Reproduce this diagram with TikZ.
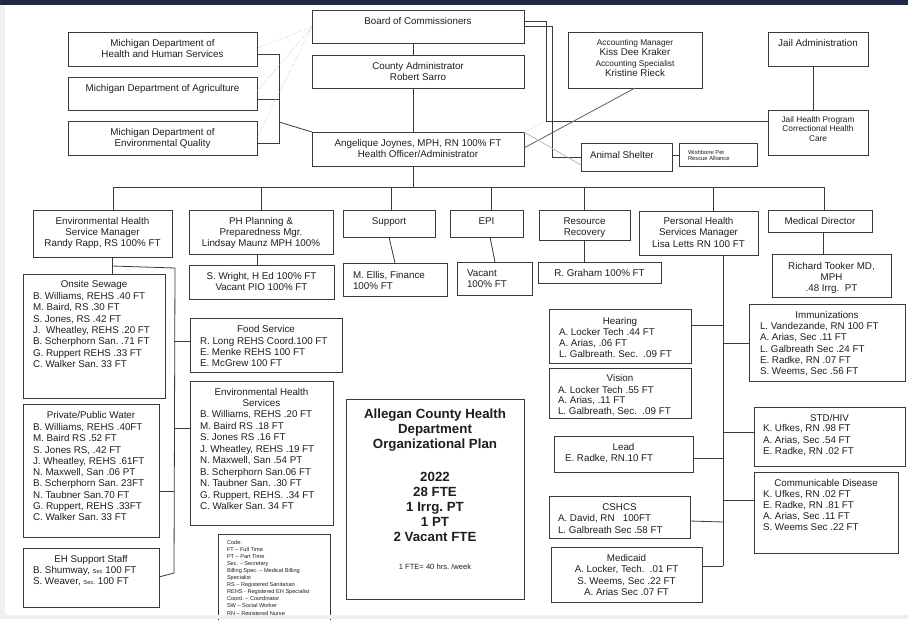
\documentclass[tikz,border=0pt]{standalone}
\usepackage{fontspec}
\setmainfont{Liberation Sans}
\usetikzlibrary{calc}
\definecolor{navy}{HTML}{1D2A47}
\definecolor{boxc}{HTML}{3A3A3A}
\definecolor{txtc}{HTML}{1E1E1E}
\definecolor{strip}{HTML}{F0F0F2}
\frenchspacing
\newcommand\TL[6]{\foreach \t [count=\i] in {#6} {\node[txt,#2] (#1-\i) at (#3,{#4+(\i-1)*#5}) {\t};}}
\newcommand\BX[5]{\node[box, anchor=north west, minimum width={#4pt-#2pt}, minimum height={#5pt-#3pt}] (#1) at (#2,#3) {};}
\begin{document}
\begin{tikzpicture}[x=1pt,y=-1pt,
  box/.style={draw=boxc, line width=0.9pt, inner sep=0pt, outer sep=0pt, fill=white},
  ln/.style={draw=boxc, line width=0.8pt},
  dotl/.style={draw=gray!70, line width=0.6pt, dotted},
  lgl/.style={draw=gray!60, line width=0.7pt},
  txt/.style={inner sep=0pt, outer sep=0pt, text=txtc, font=\fontsize{9.8}{11}\selectfont},
  sm/.style={font=\fontsize{8.3}{9.5}\selectfont},
  tiny/.style={font=\fontsize{5.6}{6.5}\selectfont},
  wtiny/.style={font=\fontsize{5.8}{6.5}\selectfont},
  ttl/.style={font=\fontsize{13.3}{15}\selectfont\bfseries},
  C/.style={anchor=base},
  L/.style={anchor=base west}]
\useasboundingbox (0,0) rectangle (908,619);
\fill[white] (0,0) rectangle (908,619);

% ---------- boxes ----------
\BX{board}{312}{10}{524}{43}
\BX{county}{312}{55}{524}{88}
\BX{ang}{312}{132}{524}{166}
\BX{mdhhs}{68}{32}{257}{66}
\BX{mda}{68}{77}{257}{110}
\BX{mdeq}{68}{121}{257}{155}
\BX{acc}{568}{32}{702}{88}
\BX{jadm}{768}{32}{868}{66}
\BX{jh}{768}{110}{868}{155}
\BX{as}{581}{143}{672}{171}
\BX{wish}{679}{143}{757}{166}

\BX{eh}{33}{210}{172}{257}
\BX{php}{189}{210}{333}{254}
\BX{sup}{343}{210}{435}{237}
\BX{epi}{450}{210}{523}{237}
\BX{rr}{539}{210}{630}{240}
\BX{phs}{639}{211}{758}{255}
\BX{md}{768}{210}{872}{232}

\BX{sw}{189}{265}{334}{299}
\BX{ellis}{343}{263}{447}{296}
\BX{vac}{457}{262}{532}{295}
\BX{gra}{538}{262}{661}{283}
\BX{took}{772}{254}{891}{297}

\BX{onsite}{23}{274}{165}{398}
\BX{water}{23}{404}{159}{537}
\BX{ehss}{23}{548}{159}{607}
\BX{food}{190}{318}{342}{372}
\BX{ehsv}{190}{381}{333}{525}
\BX{code}{218}{534}{330}{624}
\BX{title}{346}{399}{524}{599}

\BX{hear}{549}{309}{691}{363}
\BX{vis}{549}{368}{691}{418}
\BX{lead}{554}{436}{693}{472}
\BX{cshcs}{549}{496}{690}{538}
\BX{med}{551}{547}{702}{602}
\BX{imm}{749}{304}{905}{381}
\BX{std}{754}{407}{905}{466}
\BX{cd}{754}{472}{898}{553}

% ---------- top connectors ----------
\coordinate (brk) at (279,122);
\draw[ln] (mdhhs.east |- 0,54) -- (279,54) -- (279,143) -- (mdeq.east |- 0,143);
\draw[ln] (mda.east |- 0,99) -- (279,99);
\draw[ln] (brk) -- (ang.north west);
\draw[dotl] (board.west |- 0,27) -- (mdhhs.east |- 0,48);
\draw[dotl] (board.west |- 0,27) -- (mda.east |- 0,91);
\draw[dotl] (board.west |- 0,27) -- (mdeq.east |- 0,137);
\draw[ln] (board.south -| 413,0) -- (county.north -| 413,0);
\draw[ln] (county.south -| 413,0) -- (ang.north -| 413,0);
\draw[ln] (board.east |- 0,21) -- (546,21) -- (546,121) -- (jh.west |- 0,121);
\draw[ln] (board.east |- 0,26) -- (552,26) -- (552,157) -- (as.west |- 0,157);
\draw[draw=gray!75!black, line width=0.8pt] (acc.south) -- (ang.east |- 0,148);
\draw[dotl] (ang.north east) -- (546,121);
\draw[lgl] (ang.north east) -- (as.west |- 0,165);
\draw[ln] (as.east |- 0,155) -- (wish.west |- 0,155);
\draw[ln] (jadm.south -| 813,0) -- (jh.north -| 813,0);

% ---------- main bus ----------
\coordinate (busL) at (113,187);
\coordinate (busR) at (824,187);
\draw[ln] (busL) -- (busR);
\draw[ln] (ang.south -| 413,0) -- (413,187);
\draw[ln] (busL) -- (busL |- eh.north);
\draw[ln] (php.north |- busL) -- (php.north);
\draw[ln] (391,187) -- (sup.north -| 391,0);
\draw[ln] (491,187) -- (epi.north -| 491,0);
\draw[ln] (rr.north |- busL) -- (rr.north);
\draw[ln] (713,187) -- (phs.north -| 713,0);
\draw[ln] (busR) -- (busR |- md.north);

% ---------- row 3 connectors ----------
\draw[ln] (php.south -| 257,0) -- (sw.north -| 257,0);
\draw[ln] (sup.south) -- (ellis.north);
\draw[ln] (epi.south -| 490,0) -- (vac.north -| 495,0);
\draw[ln] (rr.south) -- (rr.south |- gra.north);
\draw[ln] (md.south -| 823,0) -- (took.north -| 823,0);

% ---------- left connectors ----------
\draw[ln] (eh.south -| 112,0) -- (onsite.north -| 112,0);
\draw[ln] (112,266) -- (175,268) -- (174,573) -- (ehss.east |- 0,577);
\draw[ln] (174,341) -- (food.west |- 0,341);
\draw[ln] (174,428) -- (ehsv.west |- 0,428);
\draw[ln] (water.east |- 0,491) -- (174,491);

% ---------- right connectors ----------
\coordinate (pvT) at (723,255);
\coordinate (pvB) at (723,566);
\draw[ln] (pvT) -- (pvB);
\draw[ln] (hear.east |- 0,325) -- (723,325);
\draw[ln] (723,343) -- (imm.west |- 0,343);
\draw[ln] (723,432) -- (std.west |- 0,432);
\draw[ln] (lead.east |- 0,458) -- (723,458);
\draw[ln] (723,500) -- (cd.west |- 0,500);
\draw[ln] (cshcs.east |- 0,521) -- (723,522);
\draw[ln] (med.east |- 0,566) -- (pvB);

% ---------- texts: top ----------
\TL{tboard}{C}{418}{24.5}{11}{{Board of Commissioners}}
\TL{tcounty}{C}{418}{69.5}{11}{{County Administrator},{Robert Sarro}}
\TL{tang}{C}{418}{146.5}{11}{{Angelique Joynes, MPH, RN 100\% FT},{Health Officer/Administrator}}
\TL{tmdhhs}{C}{162.5}{46.5}{11}{{Michigan Department of},{Health and Human Services}}
\TL{tmda}{C}{162.5}{91.5}{11}{{Michigan Department of Agriculture}}
\TL{tmdeq}{C}{162.5}{135.5}{11}{{Michigan Department of},{Environmental Quality}}
\node[txt,sm,C] (tacc1) at (635,45) {Accounting Manager};
\node[txt,C] (tacc2) at (635,55.5) {Kiss Dee Kraker};
\node[txt,sm,C] (tacc3) at (635,66) {Accounting Specialist};
\node[txt,C] (tacc4) at (635,76.5) {Kristine Rieck};
\TL{tjadm}{C}{818}{46.5}{11}{{Jail Administration}}
\TL{tjh}{C,sm}{818}{122}{9.5}{{Jail Health Program},{Correctional Health},{Care}}
\TL{tas}{L}{590}{158.5}{11}{{Animal Shelter}}
\TL{twish}{L,wtiny}{688}{154}{6}{{Wishbone Pet},{Rescue Alliance}}

% ---------- texts: row 2 ----------
\TL{teh}{C}{102.5}{224.5}{11}{{Environmental Health},{Service Manager},{Randy Rapp, RS 100\% FT}}
\TL{tphp}{C}{261}{224.5}{11}{{PH Planning \&},{Preparedness Mgr.},{Lindsay Maunz MPH 100\%}}
\TL{tsup}{C}{389}{224.5}{11}{{Support}}
\TL{tepi}{C}{486.5}{224.5}{11}{{EPI}}
\TL{trr}{C}{584.5}{224}{11.5}{{Resource},{Recovery}}
\TL{tphs}{C}{698.5}{224.5}{11.3}{{Personal Health},{Services Manager},{Lisa Letts RN 100 FT}}
\TL{tmd}{C}{820}{224.5}{11}{{Medical Director}}

% ---------- texts: row 3 ----------
\TL{tsw}{C}{261.5}{279.5}{11}{{S. Wright, H Ed 100\% FT},{Vacant PIO 100\% FT}}
\TL{tellis}{L}{353}{278.5}{11}{{M. Ellis, Finance},{100\% FT}}
\TL{tvac}{L}{467}{276.5}{10.5}{{Vacant},{100\% FT}}
\TL{tgra}{C}{599.5}{276.5}{11}{{R. Graham 100\% FT}}
\TL{ttook}{C}{831.5}{269.5}{10.8}{{Richard Tooker MD,},{MPH},{.48 Irrg.~~PT}}

% ---------- texts: left ----------
\TL{tons0}{C}{94}{287.5}{11}{{Onsite Sewage}}
\TL{tons}{L}{33}{299.5}{11.33}{{B. Williams, REHS .40 FT},{M. Baird, RS .30 FT},{S. Jones, RS .42 FT},{J.~~Wheatley, REHS .20 FT},{B. Scherphorn San. .71 FT},{G. Ruppert REHS .33 FT},{C. Walker San. 33 FT}}
\TL{twat0}{C}{91}{418.5}{11}{{Private/Public Water}}
\TL{twat}{L}{33}{430.5}{11.25}{{B. Williams, REHS .40FT},{M. Baird RS .52 FT},{S. Jones RS, .42 FT},{J. Wheatley, REHS .61FT},{N. Maxwell, San .06 PT},{B. Scherphorn San. 23FT},{N. Taubner San.70 FT},{G. Ruppert, REHS .33FT},{C. Walker San. 33 FT}}
\TL{tehss0}{C}{91}{562.5}{11}{{EH Support Staff}}
\node[txt,L] (tehss1) at (33,573.5) {B. Shumway, {\fontsize{5.8}{6}\selectfont Sec} 100 FT};
\node[txt,L] (tehss2) at (33,584.5) {S. Weaver, {\fontsize{5.8}{6}\selectfont Sec.} 100 FT};
\TL{tfood0}{C}{266}{332.5}{11}{{Food Service}}
\TL{tfood}{L}{200}{344.5}{11}{{R. Long REHS Coord.100 FT},{E. Menke REHS 100 FT},{E. McGrew 100 FT}}
\TL{tehsv0}{C}{261.5}{395.5}{11}{{Environmental Health},{Services}}
\TL{tehsv}{L}{200}{417.5}{11.5}{{B. Williams, REHS .20 FT},{M. Baird RS .18 FT},{S. Jones RS .16 FT},{J. Wheatley, REHS .19 FT},{N. Maxwell, San .54 PT},{B. Scherphorn San.06 FT},{N. Taubner San. .30 FT},{G. Ruppert, REHS. .34 FT},{C. Walker San. 34 FT}}
\TL{tcode}{L,tiny}{227}{544}{7.1}{{Code:},{FT – Full Time},{PT – Part Time},{Sec. – Secretary},{Billing Spec. – Medical Billing},{Specialist},{RS – Registered Sanitarian},{REHS - Registered EH Specialist},{Coord. – Coordinator},{SW – Social Worker},{RN – Registered Nurse}}

% ---------- title ----------
\TL{ttitA}{C,ttl}{435}{418}{15}{{Allegan County Health},{Department},{Organizational Plan}}
\TL{ttitB}{C,ttl}{435}{481}{15}{{2022},{28 FTE},{1 Irrg. PT},{1 PT},{2 Vacant FTE}}
\node[txt,C,font=\fontsize{7.6}{9}\selectfont] (tfte) at (435,569.5) {1 FTE= 40 hrs. /week};

% ---------- texts: right ----------
\TL{thear0}{C}{620}{324.5}{11}{{Hearing}}
\TL{thear}{L}{559}{335}{11.3}{{A. Locker Tech .44 FT},{A. Arias, .06 FT},{L. Galbreath. Sec.~~.09 FT}}
\TL{tvis0}{C}{620}{381.5}{11}{{Vision}}
\TL{tvis}{L}{558}{393}{10.8}{{A. Locker Tech .55 FT},{A. Arias, .11 FT},{L. Galbreath, Sec.~~.09 FT}}
\TL{tlead}{C}{623.5}{450.5}{11}{{Lead}}
\TL{tlead1}{L}{565}{461}{11}{{E. Radke, RN.10 FT}}
\TL{tcs0}{C}{619.5}{510.5}{11}{{CSHCS}}
\TL{tcs}{L}{558}{521.5}{11.5}{{A. David, RN~~~100FT},{L. Galbreath Sec .58 FT}}
\TL{tmed}{C}{626.5}{561.5}{11.3}{{Medicaid},{A. Locker, Tech.~~.01 FT},{S. Weems, Sec .22 FT},{A. Arias Sec .07 FT}}
\TL{timm0}{C}{827}{318.5}{11}{{Immunizations}}
\TL{timm}{L}{760}{329.5}{11.25}{{L. Vandezande, RN 100 FT},{A. Arias, Sec .11 FT},{L. Galbreath Sec .24 FT},{E. Radke, RN .07 FT},{S. Weems, Sec .56 FT}}
\TL{tstd0}{C}{829.5}{421.5}{11}{{STD/HIV}}
\TL{tstd}{L}{763}{431.5}{11.5}{{K. Ufkes, RN .98 FT},{A. Arias, Sec .54 FT},{E. Radke, RN .02 FT}}
\TL{tcd0}{C}{826}{486.5}{11}{{Communicable Disease}}
\TL{tcd}{L}{763}{497.5}{11}{{K. Ufkes, RN .02 FT},{E. Radke, RN .81 FT},{A. Arias, Sec .11 FT},{S. Weems Sec .22 FT}}

% ---------- frame strips ----------
\fill[navy] (0,0) rectangle (908,5);
\fill[strip] (0,5) rectangle (5,619);
\fill[strip] (0,615) rectangle (908,619);
\end{tikzpicture}
\end{document}
